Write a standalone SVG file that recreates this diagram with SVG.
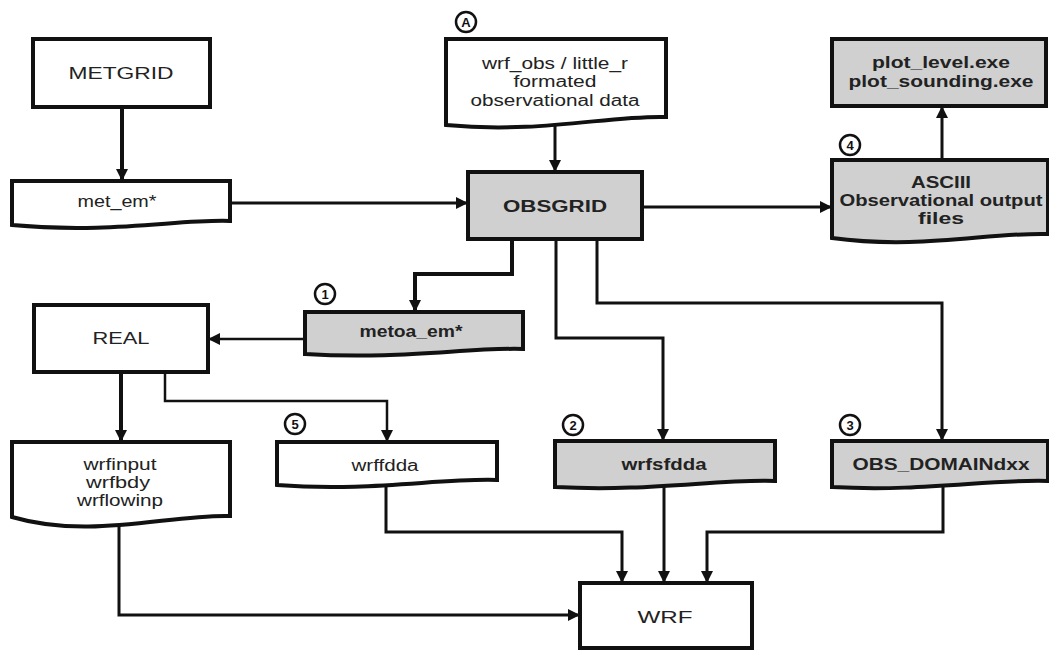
<svg xmlns="http://www.w3.org/2000/svg" width="1049" height="650" viewBox="0 0 1049 650">
  <style>
    .box { fill: #ffffff; stroke: #111; stroke-width: 4; }
    .grey { fill: #d0d0d0; }
    .lbl { font-family: "Liberation Sans", Arial, sans-serif; font-size: 16px; fill: #222; text-anchor: middle; }
    .b { font-weight: bold; }
    .con { fill: none; stroke: #111; stroke-width: 3; stroke-linejoin: miter; }
    .thick { stroke-width: 4; }
    .thin { stroke-width: 2.5; }
    .tag { fill: #fff; stroke: #111; stroke-width: 2.5; }
    .tagt { font-family: "Liberation Sans", Arial, sans-serif; font-size: 13px; font-weight: bold; fill: #111; text-anchor: middle; }
  </style>
  <defs>
    <marker id="arr" markerUnits="userSpaceOnUse" markerWidth="14" markerHeight="14" refX="12" refY="6" orient="auto">
      <path d="M0,0 L12,6 L0,12 Z" fill="#111"/>
    </marker>
  </defs>
  <rect width="1049" height="650" fill="#ffffff"/>

  <!-- connectors -->
  <g id="connectors">
    <path class="con thick" d="M122,107 V181" marker-end="url(#arr)"/>
    <path class="con" d="M230,203 H468" marker-end="url(#arr)"/>
    <path class="con" d="M555,124 V172" marker-end="url(#arr)"/>
    <path class="con" d="M642,207 H832" marker-end="url(#arr)"/>
    <path class="con" d="M942,160 V106" marker-end="url(#arr)"/>
    <path class="con thick" d="M512,239 V274 H415 V312" marker-end="url(#arr)"/>
    <path class="con" d="M556,239 V338 H663 V441" marker-end="url(#arr)"/>
    <path class="con" d="M597,239 V303 H942 V441" marker-end="url(#arr)"/>
    <path class="con thin" d="M305,339 H208" marker-end="url(#arr)"/>
    <path class="con thick" d="M121,372 V442" marker-end="url(#arr)"/>
    <path class="con thin" d="M165,372 V401 H387 V442" marker-end="url(#arr)"/>
    <path class="con" d="M119,522 V615 H580" marker-end="url(#arr)"/>
    <path class="con" d="M386,486 V532 H622 V583" marker-end="url(#arr)"/>
    <path class="con" d="M664,486 V583" marker-end="url(#arr)"/>
    <path class="con" d="M943,484 V532 H707 V583" marker-end="url(#arr)"/>
  </g>

  <!-- process boxes -->
  <g id="metgrid">
    <rect class="box" x="33" y="39" width="177" height="68"/>
    <text class="lbl" x="121" y="79" textLength="105" lengthAdjust="spacingAndGlyphs">METGRID</text>
  </g>
  <g id="obsgrid">
    <rect class="box grey" x="468" y="172" width="174" height="67" stroke-width="5"/>
    <text class="lbl b" x="555" y="212" textLength="104" lengthAdjust="spacingAndGlyphs">OBSGRID</text>
  </g>
  <g id="plot">
    <rect class="box grey" x="832" y="39" width="214" height="67"/>
    <text class="lbl b" x="941" y="68" textLength="138" lengthAdjust="spacingAndGlyphs">plot_level.exe</text>
    <text class="lbl b" x="941" y="87" textLength="185" lengthAdjust="spacingAndGlyphs">plot_sounding.exe</text>
  </g>
  <g id="real">
    <rect class="box" x="34" y="305" width="174" height="67"/>
    <text class="lbl" x="121" y="344" textLength="57" lengthAdjust="spacingAndGlyphs">REAL</text>
  </g>
  <g id="wrf">
    <rect class="box" x="580" y="583" width="172" height="65"/>
    <text class="lbl" x="665" y="623" textLength="55" lengthAdjust="spacingAndGlyphs">WRF</text>
  </g>

  <!-- data (document) shapes -->
  <g id="met_em">
    <path class="box" d="M12,181 H230 V221 C180,219 110,234 12,225 Z"/>
    <text class="lbl" x="117" y="207" textLength="79" lengthAdjust="spacingAndGlyphs">met_em*</text>
  </g>
  <g id="obs_input">
    <path class="box" d="M446,39 H666 V117 C610,115 540,134 446,125 Z"/>
    <text class="lbl" x="555" y="69" textLength="146" lengthAdjust="spacingAndGlyphs">wrf_obs / little_r</text>
    <text class="lbl" x="555" y="87" textLength="83" lengthAdjust="spacingAndGlyphs">formated</text>
    <text class="lbl" x="555" y="106" textLength="169" lengthAdjust="spacingAndGlyphs">observational data</text>
    <circle class="tag" cx="466" cy="22" r="10"/>
    <text class="tagt" x="466" y="27">A</text>
  </g>
  <g id="ascii_out">
    <path class="box grey" d="M832,160 H1048 V234 C990,232 920,250 832,238 Z"/>
    <text class="lbl b" x="941" y="188" textLength="60" lengthAdjust="spacingAndGlyphs">ASCIII</text>
    <text class="lbl b" x="941" y="206" textLength="203" lengthAdjust="spacingAndGlyphs">Observational output</text>
    <text class="lbl b" x="941" y="224" textLength="46" lengthAdjust="spacingAndGlyphs">files</text>
    <circle class="tag" cx="850" cy="145" r="10"/>
    <text class="tagt" x="850" y="150">4</text>
  </g>
  <g id="metoa_em">
    <path class="box grey" d="M305,312 H523 V349 C470,347 400,360 305,354 Z"/>
    <text class="lbl b" x="411" y="337" textLength="103" lengthAdjust="spacingAndGlyphs">metoa_em*</text>
    <circle class="tag" cx="325" cy="294" r="10"/>
    <text class="tagt" x="325" y="299">1</text>
  </g>
  <g id="wrfinput">
    <path class="box" d="M12,442 H230 V516 C170,514 90,540 12,517 Z"/>
    <text class="lbl" x="120" y="470" textLength="73" lengthAdjust="spacingAndGlyphs">wrfinput</text>
    <text class="lbl" x="118" y="488" textLength="64" lengthAdjust="spacingAndGlyphs">wrfbdy</text>
    <text class="lbl" x="120" y="506" textLength="86" lengthAdjust="spacingAndGlyphs">wrflowinp</text>
  </g>
  <g id="wrffdda">
    <path class="box" d="M277,442 H497 V480 C440,478 370,492 277,485 Z"/>
    <text class="lbl" x="385" y="471" textLength="67" lengthAdjust="spacingAndGlyphs">wrffdda</text>
    <circle class="tag" cx="295" cy="424" r="10"/>
    <text class="tagt" x="295" y="429">5</text>
  </g>
  <g id="wrfsfdda">
    <path class="box grey" d="M555,441 H775 V481 C718,479 648,492 555,487 Z"/>
    <text class="lbl b" x="664" y="470" textLength="85" lengthAdjust="spacingAndGlyphs">wrfsfdda</text>
    <circle class="tag" cx="573" cy="425" r="10"/>
    <text class="tagt" x="573" y="430">2</text>
  </g>
  <g id="obs_domain">
    <path class="box grey" d="M832,441 H1048 V481 C990,479 922,492 832,487 Z"/>
    <text class="lbl b" x="941" y="470" textLength="177" lengthAdjust="spacingAndGlyphs">OBS_DOMAINdxx</text>
    <circle class="tag" cx="850" cy="425" r="10"/>
    <text class="tagt" x="850" y="430">3</text>
  </g>
</svg>
